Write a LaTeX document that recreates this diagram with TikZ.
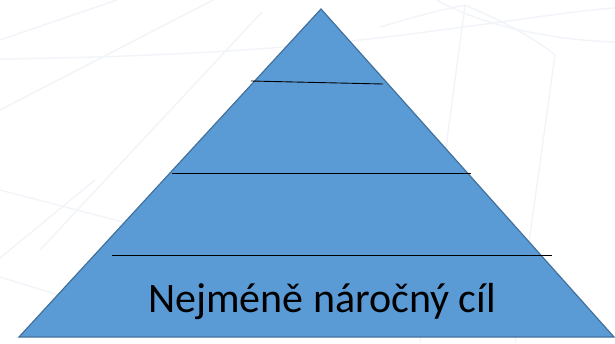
\documentclass[tikz,border=0pt]{standalone}
\usepackage{fontspec}
\setmainfont{Carlito}
\definecolor{pyrfill}{HTML}{5B9BD5}
\definecolor{pyredge}{HTML}{41719C}
\definecolor{wmark}{HTML}{F1F4F9}
\tikzset{
  wmline/.style={draw=wmark, line width=1.4pt},
  divider/.style={draw=black, line width=0.9pt},
  pyramid/.style={fill=pyrfill, draw=pyredge, line width=1.2pt, line join=miter},
}
\begin{document}
\begin{tikzpicture}[x=1pt,y=-1pt]
\useasboundingbox[fill=white] (0,0) rectangle (615,343);
% faint watermark lines
\draw[wmline] (0,40) -- (117,0);
\draw[wmline] (0,110) -- (213,0);
\draw[wmline] (0,59) .. controls (150,57) and (300,50) .. (440,30) .. controls (520,20) and (580,10) .. (615,8);
\draw[wmline] (262,12) -- (40,250);
\draw[wmline] (0,190) -- (123,222);
\draw[wmline] (0,258) -- (95,180);
\draw[wmline] (0,277) -- (65,297);
\draw[wmline] (437,0) .. controls (480,25) and (550,40) .. (615,42);
\draw[wmline] (380,27) .. controls (410,18) and (440,10) .. (465,5);
\draw[wmline] (465,5) .. controls (500,20) and (530,35) .. (555,55);
\draw[wmline] (465,5) -- (420,343);
\draw[wmline] (555,55) -- (515,343);
% pyramid
\coordinate (apex) at (321,9);
\coordinate (bl) at (19,337);
\coordinate (br) at (614,337);
\path[pyramid] (apex) -- (br) -- (bl) -- cycle;
% dividers
\coordinate (d1a) at (251,81);
\coordinate (d1b) at (383,84);
\coordinate (d2a) at (172,173);
\coordinate (d2b) at (471,173);
\coordinate (d3a) at (112,255);
\coordinate (d3b) at (552,255);
\draw[divider] (d1a) -- (d1b);
\draw[divider] (d2a) -- (d2b);
\draw[divider] (d3a) -- (d3b);
\node[anchor=base, font=\fontsize{42}{48}\selectfont, inner sep=0pt] (label) at (322,312) {Nejméně náročný cíl};
\end{tikzpicture}
\end{document}
